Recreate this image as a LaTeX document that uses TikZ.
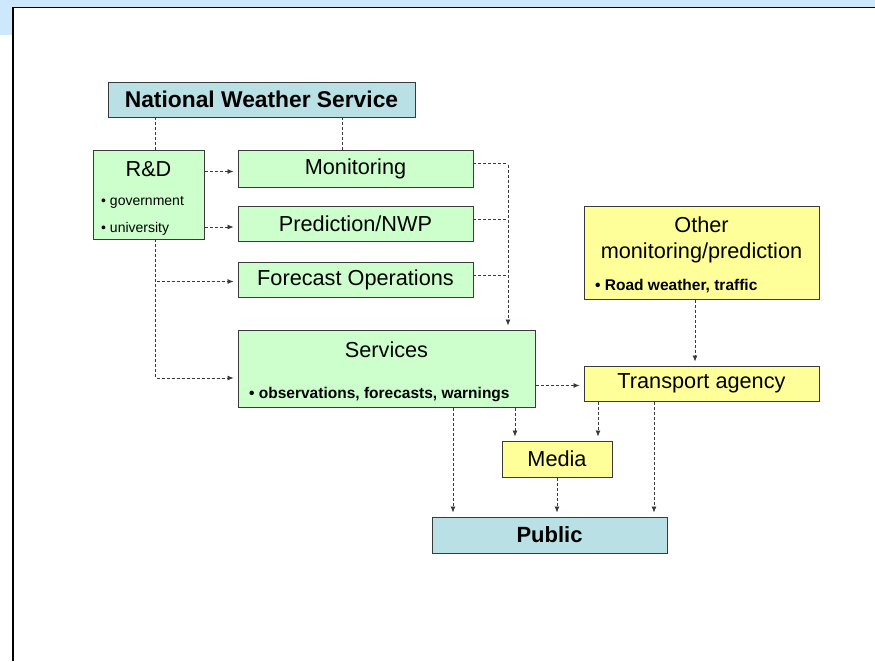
\documentclass[tikz,border=0pt]{standalone}
\usepackage{fontspec}
\setmainfont{Liberation Sans}
\usetikzlibrary{arrows.meta}
\definecolor{frameblue}{HTML}{CCE8FA}
\definecolor{boxgreen}{HTML}{CCFFCC}
\definecolor{boxyellow}{HTML}{FFFF99}
\definecolor{boxteal}{HTML}{B9E0E5}
\definecolor{edgegray}{HTML}{3A3A3A}
\begin{document}
\begin{tikzpicture}[x=1pt,y=-1pt]
\tikzset{
 box/.style={draw=edgegray, line width=0.9pt, inner sep=0pt, font=\fontsize{21.7}{25}\selectfont},
 conn/.style={draw=edgegray, line width=0.8pt, dash pattern=on 3pt off 2pt},
 arr/.style={conn, -{Latex[length=6pt,width=5pt]}, shorten >=4pt, shorten <=1pt},
 small/.style={font=\fontsize{14}{16}\selectfont, inner sep=0pt, anchor=base west},
 bul/.style={font=\bfseries\fontsize{15.5}{18}\selectfont, inner sep=0pt, anchor=base west},
 ttl/.style={font=\fontsize{21.7}{25}\selectfont, inner sep=0pt, anchor=base},
}
\useasboundingbox (0,0) rectangle (875,661);
\fill[frameblue] (0,0) rectangle (875,7.5);
\fill[frameblue] (0,0) rectangle (13,35);
\draw[black, line width=1.6pt] (13,661) -- (13,7.5) -- (875,7.5);

% boxes
\node[box, fill=boxteal, minimum width=307pt, minimum height=35pt, font=\bfseries\fontsize{22.8}{26}\selectfont] (nws) at (261.5,99.5) {National Weather Service};
\node[box, fill=boxgreen, minimum width=111pt, minimum height=89pt] (rd) at (148.5,194.5) {};
\node[ttl] (rdt) at (148.5,176) {R\&D};
\node[small] (rdg) at (101,205) {• government};
\node[small] (rdu) at (101,232) {• university};
\node[box, fill=boxgreen, minimum width=235pt, minimum height=37pt] (mon) at (355.5,168.5) {Monitoring};
\node[box, fill=boxgreen, minimum width=235pt, minimum height=35pt] (pred) at (355.5,223.5) {Prediction/NWP};
\node[box, fill=boxgreen, minimum width=235pt, minimum height=35pt] (fore) at (355.5,279.5) {Forecast Operations};
\node[box, fill=boxgreen, minimum width=297pt, minimum height=77pt] (serv) at (386.5,368.5) {};
\node[ttl] (servt) at (386.5,357) {Services};
\node[bul] (servb) at (249,398) {• observations, forecasts, warnings};
\node[box, fill=boxyellow, minimum width=235pt, minimum height=93pt] (other) at (701.5,252.5) {};
\node[ttl] (othert1) at (701.5,232) {Other};
\node[ttl] (othert2) at (701.5,258) {monitoring/prediction};
\node[bul] (otherb) at (595,290) {• Road weather, traffic};
\node[box, fill=boxyellow, minimum width=235pt, minimum height=35pt] (trans) at (701.5,383.5) {Transport agency};
\node[box, fill=boxyellow, minimum width=110pt, minimum height=36pt] (media) at (557,459) {Media};
\node[box, fill=boxteal, minimum width=235pt, minimum height=36pt, font=\bfseries\fontsize{22}{26}\selectfont] (pub) at (549.5,535) {Public};

% helper coordinates
\coordinate (xa) at (155.5,0);
\coordinate (xb) at (342.5,0);
\coordinate (ya1) at (0,171.5);
\coordinate (ya2) at (0,227);
\coordinate (ya3) at (0,281.5);
\coordinate (ya4) at (0,378);
\coordinate (xr) at (508,0);
\coordinate (yr1) at (0,163.5);
\coordinate (yr2) at (0,219);
\coordinate (yr3) at (0,275);
\coordinate (ys) at (0,385.5);
\coordinate (xo) at (695,0);
\coordinate (xp1) at (453,0);
\coordinate (xp2) at (515,0);
\coordinate (xp3) at (598,0);
\coordinate (xp4) at (557,0);
\coordinate (xp5) at (654,0);

% connectors
\draw[conn] (nws.south -| xa) -- (rd.north -| xa);
\draw[conn] (nws.south -| xb) -- (mon.north -| xb);
\draw[arr] (rd.east |- ya1) -- (mon.west |- ya1);
\draw[arr] (rd.east |- ya2) -- (pred.west |- ya2);
\draw[conn] (rd.south -| xa) -- (xa |- ya4);
\draw[arr] (xa |- ya3) -- (fore.west |- ya3);
\draw[arr] (xa |- ya4) -- (serv.west |- ya4);
\draw[conn] (mon.east |- yr1) -- (xr |- yr1);
\draw[conn] (pred.east |- yr2) -- (xr |- yr2);
\draw[conn] (fore.east |- yr3) -- (xr |- yr3);
\draw[arr] (xr |- yr1) -- (serv.north -| xr);
\draw[arr] (serv.east |- ys) -- (trans.west |- ys);
\draw[arr] (other.south -| xo) -- (trans.north -| xo);
\draw[arr] (serv.south -| xp1) -- (pub.north -| xp1);
\draw[arr] (serv.south -| xp2) -- (media.north -| xp2);
\draw[arr] (trans.south -| xp3) -- (media.north -| xp3);
\draw[arr] (media.south -| xp4) -- (pub.north -| xp4);
\draw[arr] (trans.south -| xp5) -- (pub.north -| xp5);
\end{tikzpicture}
\end{document}
